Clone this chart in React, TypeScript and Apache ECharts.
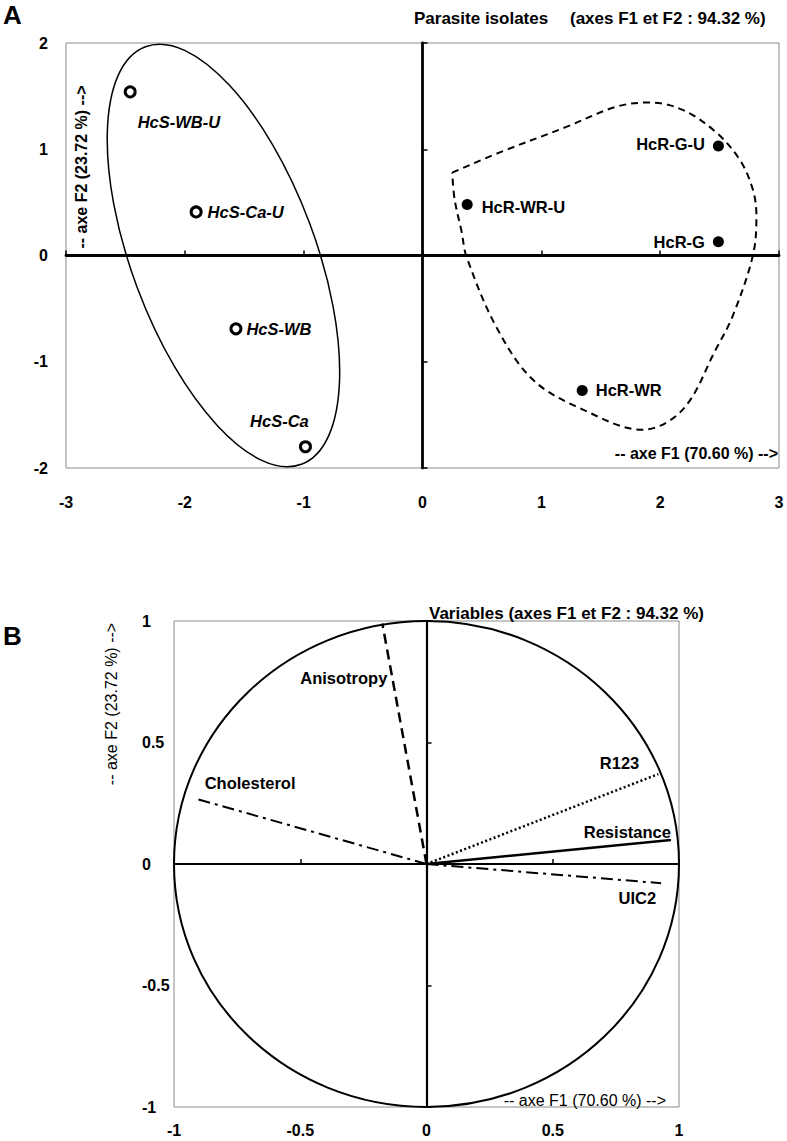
import React, { useEffect, useRef } from "react";
import * as echarts from "echarts";

const FONT = '"Liberation Sans", Arial, Helvetica, sans-serif';

// ---------- Panel A : parasite isolates (PCA scores) ----------
const susceptibleNames = ["HcS-WB-U", "HcS-Ca-U", "HcS-WB", "HcS-Ca"];
const susceptibleF1 = [-2.46, -1.905, -1.57, -0.985];
const susceptibleF2 = [1.54, 0.41, -0.69, -1.8];

const resistantNames = ["HcR-G-U", "HcR-WR-U", "HcR-G", "HcR-WR"];
const resistantF1 = [2.49, 0.376, 2.49, 1.344];
const resistantF2 = [1.03, 0.48, 0.13, -1.27];

// dashed outline around the resistant group
const hullF1 = [0.25, 0.65, 1.21, 1.63, 1.91, 2.19, 2.47, 2.67, 2.78, 2.81, 2.78, 2.61, 2.47, 2.19, 1.85, 1.35, 0.93, 0.62, 0.37, 0.33, 0.27, 0.25];
const hullF2 = [0.78, 0.97, 1.21, 1.4, 1.44, 1.37, 1.16, 0.9, 0.62, 0.37, 0.0, -0.57, -0.88, -1.45, -1.64, -1.45, -1.17, -0.67, -0.01, 0.22, 0.53, 0.78];

// solid ellipse around the susceptible group
const ellipseCenter = [-1.675, 0];
const ellipseSemiMajor = [1.875]; // in F1 units
const ellipseSemiMinor = [0.774]; // in F1 units
const ellipseAngleDeg = [-69.5];

const f1TicksA = [-3, -2, -1, 0, 1, 2, 3];
const f2TicksA = [-2, -1, 0, 1, 2];

// ---------- Panel B : variables (correlation circle) ----------
const variableNames = ["Anisotropy", "Cholesterol", "R123", "Resistance", "UIC2"];
const variableF1 = [-0.175, -0.918, 0.918, 0.968, 0.929];
const variableF2 = [0.99, 0.27, 0.37, 0.099, -0.079];
const circleRadius = [1];

const f1TicksB = [-1, -0.5, 0, 0.5, 1];
const f2TicksB = [-1, -0.5, 0, 0.5, 1];

// ---------- styles ----------
const labelPlacementA: Record<string, { position: string; offset: number[] }> = {
  "HcS-WB-U": { position: "right", offset: [-4, 30] },
  "HcS-Ca-U": { position: "right", offset: [0, 0] },
  "HcS-WB": { position: "right", offset: [-1, 0] },
  "HcS-Ca": { position: "top", offset: [-26, -6] },
  "HcR-G-U": { position: "left", offset: [-3, -2] },
  "HcR-WR-U": { position: "right", offset: [4, 2] },
  "HcR-G": { position: "left", offset: [-3, 0] },
  "HcR-WR": { position: "right", offset: [3, 0] },
};

const labelPlacementB: Record<string, { position: string; offset: number[] }> = {
  Anisotropy: { position: "left", offset: [10, 55] },
  Cholesterol: { position: "right", offset: [5, -15] },
  R123: { position: "left", offset: [-14, -11] },
  Resistance: { position: "left", offset: [5, -8] },
  UIC2: { position: "left", offset: [0, 15] },
};

const vectorStyle: Record<string, { type: any; width: number }> = {
  Anisotropy: { type: [10, 6], width: 2.5 },
  Cholesterol: { type: [12, 5, 3, 5], width: 2 },
  R123: { type: [2, 2.5], width: 2.5 },
  Resistance: { type: "solid", width: 2.5 },
  UIC2: { type: [12, 5, 3, 5], width: 2 },
};

const tickLabelStyle = { color: "#000", fontSize: 16, fontWeight: "bold" as const, fontFamily: FONT };

function labelAxisX(grid: number, ticks: number[], margin: number) {
  return {
    type: "value",
    gridIndex: grid,
    min: ticks[0],
    max: ticks[ticks.length - 1],
    interval: ticks[1] - ticks[0],
    axisLine: { show: false, onZero: false },
    axisTick: { show: false },
    splitLine: { show: false },
    axisLabel: { ...tickLabelStyle, margin },
  };
}
function labelAxisY(grid: number, ticks: number[], margin: number, align: string) {
  return {
    type: "value",
    gridIndex: grid,
    min: ticks[0],
    max: ticks[ticks.length - 1],
    interval: ticks[1] - ticks[0],
    axisLine: { show: false, onZero: false },
    axisTick: { show: false },
    splitLine: { show: false },
    axisLabel: { ...tickLabelStyle, margin, align },
  };
}
function zeroAxis(grid: number, ticks: number[], width: number) {
  return {
    type: "value",
    gridIndex: grid,
    min: ticks[0],
    max: ticks[ticks.length - 1],
    interval: ticks[1] - ticks[0],
    axisLine: { show: true, onZero: true, lineStyle: { color: "#000", width } },
    axisTick: { show: true, length: 5, lineStyle: { color: "#000", width: 1.5 } },
    splitLine: { show: false },
    axisLabel: { show: false },
  };
}

function text(
  str: string,
  x: number,
  y: number,
  size: number,
  weight: string,
  align: string,
  rotation = 0
) {
  return {
    type: "text",
    x,
    y,
    rotation,
    silent: true,
    style: {
      text: str,
      fill: "#000",
      font: `${weight} ${size}px ${FONT}`,
      align,
      verticalAlign: "middle",
      textAlign: align,
      textVerticalAlign: "middle",
    },
  };
}

export default function App() {
  const ref = useRef<HTMLDivElement>(null);

  useEffect(() => {
    if (!ref.current) return;
    const chart = echarts.init(ref.current, undefined, { renderer: "svg" });

    const pointLabel = (name: string, italic: boolean, placement: any) => ({
      show: true,
      formatter: name,
      position: placement.position,
      offset: placement.offset,
      distance: 5,
      color: "#000",
      opacity: 1,
      fontSize: 16.5,
      fontWeight: "bold",
      fontStyle: italic ? "italic" : "normal",
      fontFamily: FONT,
    });

    const susceptibleData = susceptibleNames.map((n, i) => ({
      name: n,
      value: [susceptibleF1[i], susceptibleF2[i]],
      label: pointLabel(n, true, labelPlacementA[n]),
    }));
    const resistantData = resistantNames.map((n, i) => ({
      name: n,
      value: [resistantF1[i], resistantF2[i]],
      label: pointLabel(n, false, labelPlacementA[n]),
    }));

    const hullData = hullF1.map((x, i) => [x, hullF2[i]]);

    const vectorSeries = variableNames.map((n, i) => ({
      type: "line",
      name: n,
      xAxisIndex: 2,
      yAxisIndex: 2,
      data: [
        [0, 0],
        [variableF1[i], variableF2[i]],
      ],
      symbol: "none",
      silent: true,
      lineStyle: { color: "#000", width: vectorStyle[n].width, type: vectorStyle[n].type },
      z: 3,
    }));

    const variableLabelData = variableNames.map((n, i) => ({
      name: n,
      value: [variableF1[i], variableF2[i]],
      label: {
        show: true,
        formatter: n,
        position: labelPlacementB[n].position,
        offset: labelPlacementB[n].offset,
        distance: 5,
        color: "#000",
        opacity: 1,
        fontSize: 16.5,
        fontWeight: "bold",
        fontFamily: FONT,
      },
    }));

    const option: any = {
      animation: false,
      backgroundColor: "#fff",
      grid: [
        { left: 66, top: 43, width: 713, height: 425, show: true, borderColor: "#8a8a8a", borderWidth: 1, backgroundColor: "transparent" },
        { left: 174, top: 621, width: 505, height: 486, show: true, borderColor: "#8a8a8a", borderWidth: 1, backgroundColor: "transparent" },
      ],
      xAxis: [
        labelAxisX(0, f1TicksA, 26),
        zeroAxis(0, f1TicksA, 2.8),
        labelAxisX(1, f1TicksB, 15),
        zeroAxis(1, f1TicksB, 2.2),
      ],
      yAxis: [
        labelAxisY(0, f2TicksA, 18, "right"),
        zeroAxis(0, f2TicksA, 2.8),
        labelAxisY(1, f2TicksB, 32, "left"),
        zeroAxis(1, f2TicksB, 2.2),
      ],
      series: [
        {
          type: "custom",
          xAxisIndex: 0,
          yAxisIndex: 0,
          silent: true,
          data: [ellipseCenter],
          renderItem: (params: any, api: any) => {
            const c = api.coord([api.value(0), api.value(1)]);
            const unit = api.size([1, 1])[0];
            return {
              type: "ellipse",
              x: c[0],
              y: c[1],
              rotation: (ellipseAngleDeg[0] * Math.PI) / 180,
              shape: { cx: 0, cy: 0, rx: ellipseSemiMajor[0] * unit, ry: ellipseSemiMinor[0] * unit },
              style: { fill: "none", stroke: "#000", lineWidth: 1.5 },
            };
          },
          z: 2,
        },
        {
          type: "line",
          xAxisIndex: 0,
          yAxisIndex: 0,
          data: hullData,
          smooth: 0.35,
          symbol: "none",
          silent: true,
          lineStyle: { color: "#000", width: 2, type: [7, 5] },
          z: 2,
        },
        {
          type: "scatter",
          xAxisIndex: 0,
          yAxisIndex: 0,
          data: susceptibleData,
          symbol: "circle",
          symbolSize: 10,
          silent: true,
          itemStyle: { color: "#fff", borderColor: "#000", borderWidth: 3, opacity: 1 },
          z: 4,
        },
        {
          type: "scatter",
          xAxisIndex: 0,
          yAxisIndex: 0,
          data: resistantData,
          symbol: "circle",
          symbolSize: 11,
          silent: true,
          itemStyle: { color: "#000", opacity: 1 },
          z: 4,
        },
        {
          type: "custom",
          xAxisIndex: 2,
          yAxisIndex: 2,
          silent: true,
          data: [[0, 0]],
          renderItem: (params: any, api: any) => {
            const c = api.coord([api.value(0), api.value(1)]);
            const s = api.size([1, 1]);
            return {
              type: "ellipse",
              shape: { cx: c[0], cy: c[1], rx: circleRadius[0] * s[0], ry: circleRadius[0] * s[1] },
              style: { fill: "none", stroke: "#000", lineWidth: 2 },
            };
          },
          z: 2,
        },
        ...vectorSeries,
        {
          type: "scatter",
          xAxisIndex: 2,
          yAxisIndex: 2,
          data: variableLabelData,
          symbolSize: 0,
          silent: true,
          itemStyle: { opacity: 1 },
          z: 5,
        },
      ],
      graphic: [
        text("A", 3, 15, 26, "bold", "left"),
        text("B", 3, 636, 26, "bold", "left"),
        text("Parasite isolates", 414, 18, 17, "bold", "left"),
        text("(axes F1 et F2 : 94.32 %)", 570, 18, 17, "bold", "left"),
        text("-- axe F1 (70.60 %) -->", 778, 453, 16, "bold", "right"),
        text("-- axe F2 (23.72 %) -->", 81, 167, 16, "bold", "center", Math.PI / 2),
        text("Variables (axes F1 et F2 : 94.32 %)", 429, 613, 17, "bold", "left"),
        text("-- axe F1 (70.60 %) -->", 666, 1100, 16, "normal", "right"),
        text("-- axe F2 (23.72 %) -->", 111, 704, 16, "normal", "center", Math.PI / 2),
      ],
    };

    chart.setOption(option);
    return () => chart.dispose();
  }, []);

  return (
    <div
      ref={ref}
      style={{ position: "absolute", left: 0, top: 0, width: 787, height: 1141, background: "#fff" }}
    />
  );
}
